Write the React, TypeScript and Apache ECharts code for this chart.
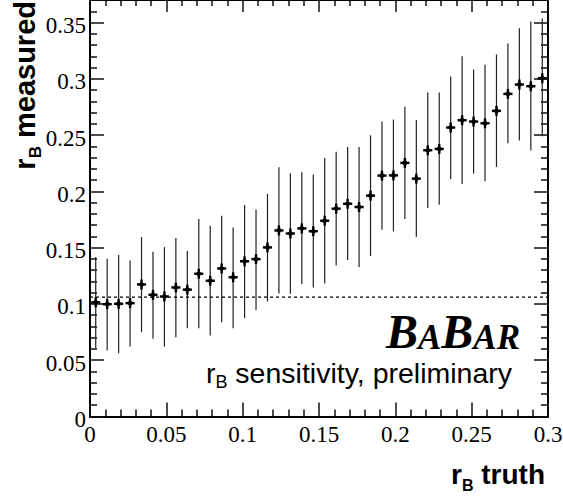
import React, { useEffect, useRef } from "react";
import * as echarts from "echarts";

// r_B truth bin centres
const rbTruth = [
  0.00375, 0.01125, 0.01875, 0.02625, 0.03375, 0.04125, 0.04875, 0.05625,
  0.06375, 0.07125, 0.07875, 0.08625, 0.09375, 0.10125, 0.10875, 0.11625,
  0.12375, 0.13125, 0.13875, 0.14625, 0.15375, 0.16125, 0.16875, 0.17625,
  0.18375, 0.19125, 0.19875, 0.20625, 0.21375, 0.22125, 0.22875, 0.23625,
  0.24375, 0.25125, 0.25875, 0.26625, 0.27375, 0.28125, 0.28875, 0.29625,
];
// measured r_B (central values)
const rbMeasured = [
  0.1014, 0.0998, 0.1001, 0.1007, 0.1173, 0.1081, 0.1066, 0.1146,
  0.1127, 0.1268, 0.1206, 0.1315, 0.1237, 0.1379, 0.1398, 0.1502,
  0.1653, 0.1626, 0.1671, 0.1646, 0.1739, 0.1846, 0.189, 0.1861,
  0.1962, 0.214, 0.2142, 0.2253, 0.2113, 0.2365, 0.2377, 0.2567,
  0.2632, 0.262, 0.2605, 0.2715, 0.2866, 0.2949, 0.2934, 0.3005,
];
// lower end of the error bars
const rbLow = [
  0.0607, 0.0586, 0.0562, 0.0621, 0.0749, 0.069, 0.0621, 0.0705,
  0.0785, 0.0785, 0.0719, 0.0838, 0.0783, 0.0875, 0.0945, 0.1022,
  0.1093, 0.109, 0.1176, 0.1146, 0.1182, 0.1342, 0.139, 0.1327,
  0.1425, 0.1659, 0.1644, 0.1754, 0.1594, 0.1852, 0.1882, 0.211,
  0.2066, 0.2157, 0.2089, 0.2217, 0.2427, 0.2451, 0.2362, 0.2489,
];
// upper end of the error bars
const rbHigh = [
  0.1416, 0.1401, 0.1434, 0.1386, 0.1594, 0.1463, 0.1505, 0.1585,
  0.147, 0.1754, 0.1695, 0.1784, 0.168, 0.1879, 0.184, 0.1977,
  0.2214, 0.216, 0.217, 0.2149, 0.2297, 0.2353, 0.2395, 0.2395,
  0.2498, 0.262, 0.2638, 0.2751, 0.2635, 0.2878, 0.2878, 0.302,
  0.3201, 0.3083, 0.3125, 0.3216, 0.3314, 0.3448, 0.351, 0.3536,
];
// tick values and labels
const xTickValues = [0, 0.05, 0.1, 0.15, 0.2, 0.25, 0.3];
const xTickLabels = ["0", "0.05", "0.1", "0.15", "0.2", "0.25", "0.3"];
const yTickValues = [0, 0.05, 0.1, 0.15, 0.2, 0.25, 0.3, 0.35];
const yTickLabels = ["0", "0.05", "0.1", "0.15", "0.2", "0.25", "0.3", "0.35"];

const xHalfErr = 0.003;
const referenceLevel = 0.106;
const xRange = [0, 0.3];
const yRange = [0, 0.37];
const tickStep = 0.05;

const serif = "'Liberation Serif', 'Times New Roman', Times, serif";
const sans = "'Liberation Sans', Arial, Helvetica, sans-serif";

export default function App() {
  const ref = useRef<HTMLDivElement>(null);
  useEffect(() => {
    if (!ref.current) return;
    const chart = echarts.init(ref.current, undefined, { renderer: "svg" });
    const data = rbTruth.map((x, i) => [x, rbMeasured[i], rbLow[i], rbHigh[i]]);
    const tickStyle = { inside: true, length: 14, lineStyle: { color: "#111", width: 1.5 } };
    const minorStyle = { show: true, splitNumber: 5, length: 7, lineStyle: { color: "#111", width: 1.5 } };
    const lineStyle = { show: true, onZero: false, lineStyle: { color: "#000", width: 2 } };
    chart.setOption({
      animation: false,
      backgroundColor: "#fff",
      grid: { left: 90, right: 15, top: 0, bottom: 80.5, containLabel: false },
      xAxis: [
        {
          type: "value", min: xRange[0], max: xRange[1], interval: tickStep, position: "bottom",
          axisLine: lineStyle, axisTick: tickStyle, minorTick: minorStyle, splitLine: { show: false },
          axisLabel: { show: false },
        },
        {
          type: "value", min: xRange[0], max: xRange[1], interval: tickStep, position: "top",
          axisLine: lineStyle, axisTick: { ...tickStyle, length: 12 }, minorTick: { ...minorStyle, length: 6 },
          splitLine: { show: false }, axisLabel: { show: false },
        },
      ],
      yAxis: [
        {
          type: "value", min: yRange[0], max: yRange[1], interval: tickStep, position: "left",
          axisLine: lineStyle, axisTick: tickStyle, minorTick: minorStyle, splitLine: { show: false },
          axisLabel: { show: false },
        },
        {
          type: "value", min: yRange[0], max: yRange[1], interval: tickStep, position: "right",
          axisLine: lineStyle, axisTick: tickStyle, minorTick: minorStyle, splitLine: { show: false },
          axisLabel: { show: false },
        },
      ],
      series: [
        {
          type: "line",
          data: [[xRange[0], referenceLevel], [xRange[1], referenceLevel]],
          symbol: "none",
          lineStyle: { color: "#000", width: 1.3, type: [3, 3] },
          silent: true,
        },
        {
          type: "custom",
          data,
          renderItem: (params: any, api: any) => {
            const x = api.value(0);
            const y = api.value(1);
            const p = api.coord([x, y]);
            const lo = api.coord([x, api.value(2)]);
            const hi = api.coord([x, api.value(3)]);
            const hw = api.size([xHalfErr, 0])[0];
            return {
              type: "group",
              children: [
                { type: "line", shape: { x1: p[0], y1: hi[1], x2: p[0], y2: lo[1] }, style: { stroke: "#222", lineWidth: 1.2 } },
                { type: "line", shape: { x1: p[0] - hw, y1: p[1], x2: p[0] + hw, y2: p[1] }, style: { stroke: "#000", lineWidth: 2.4 } },
                { type: "line", shape: { x1: p[0], y1: p[1] - 5, x2: p[0], y2: p[1] + 5 }, style: { stroke: "#000", lineWidth: 2.4 } },
                { type: "circle", shape: { cx: p[0], cy: p[1], r: 2.4 }, style: { fill: "#000" } },
              ],
            };
          },
        },
      ],
    });

    const tickRich = { t: { fontFamily: serif, fontSize: 23, fill: "#000" } };
    const x0px = chart.convertToPixel({ xAxisIndex: 0 }, xRange[0]) as number;
    const y0px = chart.convertToPixel({ yAxisIndex: 0 }, yRange[0]) as number;
    const xLabels = xTickValues.map((v, i) => ({
      type: "text",
      x: chart.convertToPixel({ xAxisIndex: 0 }, v) as number,
      y: y0px + 6,
      style: { text: "{t|" + xTickLabels[i] + "}", rich: tickRich, align: "center", verticalAlign: "top" },
    }));
    const yLabels = yTickValues.map((v, i) => ({
      type: "text",
      x: x0px - 4,
      y: (chart.convertToPixel({ yAxisIndex: 0 }, v) as number) + 3,
      style: { text: "{t|" + yTickLabels[i] + "}", rich: tickRich, align: "right", verticalAlign: "middle" },
    }));

    chart.setOption({
      graphic: [
        ...xLabels,
        ...yLabels,
        {
          type: "text", x: 520, y: 331,
          style: {
            text: "{b|B}{s|A}{b|B}{s|AR}", align: "right", verticalAlign: "middle",
            rich: {
              b: { fontFamily: serif, fontStyle: "italic", fontWeight: "bold", fontSize: 48, fill: "#000", verticalAlign: "bottom", lineHeight: 48 },
              s: { fontFamily: serif, fontStyle: "italic", fontWeight: "bold", fontSize: 35, fill: "#000", verticalAlign: "bottom", lineHeight: 38 },
            },
          },
        },
        {
          type: "text", x: 512, y: 373,
          style: {
            text: "{m|r}{u|B}{m| sensitivity, preliminary}", align: "right", verticalAlign: "middle",
            rich: {
              m: { fontFamily: sans, fontSize: 28.5, fill: "#000", lineHeight: 36, verticalAlign: "middle" },
              u: { fontFamily: sans, fontSize: 18, fill: "#000", lineHeight: 17, verticalAlign: "bottom" },
            },
          },
        },
        {
          type: "text", x: 545, y: 474,
          style: {
            text: "{m|r}{u|B}{m| truth}", align: "right", verticalAlign: "middle",
            rich: {
              m: { fontFamily: sans, fontWeight: "bold", fontSize: 28, fill: "#000", lineHeight: 38, verticalAlign: "middle" },
              u: { fontFamily: sans, fontWeight: "bold", fontSize: 16, fill: "#000", lineHeight: 16, verticalAlign: "bottom" },
            },
          },
        },
        {
          type: "text", x: 25, y: 1, rotation: Math.PI / 2,
          style: {
            text: "{m|r}{u|B}{m| measured}", align: "right", verticalAlign: "middle",
            rich: {
              m: { fontFamily: sans, fontWeight: "bold", fontSize: 29, fill: "#000", lineHeight: 38, verticalAlign: "middle" },
              u: { fontFamily: sans, fontWeight: "bold", fontSize: 17, fill: "#000", lineHeight: 16, verticalAlign: "bottom" },
            },
          },
        },
      ],
    });
    return () => chart.dispose();
  }, []);
  return (
    <div
      ref={ref}
      style={{ position: "fixed", left: 0, top: 0, width: 563, height: 497, background: "#fff" }}
    />
  );
}
